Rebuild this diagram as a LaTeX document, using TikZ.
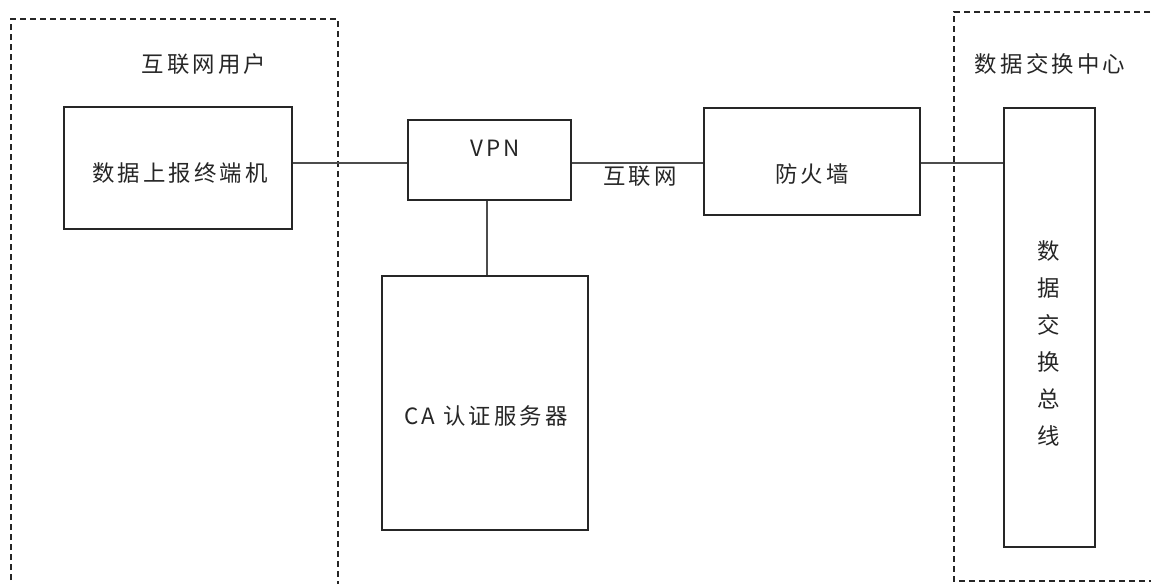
\documentclass[tikz,border=0pt]{standalone}
\usepackage{fontspec}
\setmainfont[LetterSpace=14]{Noto Sans CJK SC}
\usetikzlibrary{fit}
\tikzset{
  box/.style={draw=black!85, line width=1.1pt, inner sep=0pt, fill=white},
  zone/.style={draw=black!85, line width=0.9pt, dash pattern=on 4.5pt off 3pt},
  link/.style={draw=black!70, line width=1.1pt},
  txt/.style={inner sep=0pt, font=\fontsize{16.8}{19}\selectfont, text=black!85},
  vtxt/.style={inner sep=0pt, align=center, font=\fontsize{16.8}{27.75}\selectfont, text=black!85}
}
\begin{document}
\begin{tikzpicture}[x=0.75pt,y=-0.75pt]
\useasboundingbox (0,0) rectangle (1151,583);
\clip (0,0) rectangle (1151,583);
% zones
\draw[zone] (11,600) -- (11,19) -- (338,19) -- (338,600);
\draw[zone] (1170,12) -- (954,12) -- (954,581) -- (1170,581);
% boxes
\node[box, fit={(64,107) (292,229)}] (term) {};
\node[box, fit={(408,120) (571,200)}] (vpn) {};
\node[box, fit={(382,276) (588,530)}] (ca) {};
\node[box, fit={(704,108) (920,215)}] (fw) {};
\node[box, fit={(1004,108) (1095,547)}] (bus) {};
% connectors
\draw[link] (term.east |- 0,163) -- (vpn.west |- 0,163);
\draw[link] (vpn.east |- 0,163) -- (fw.west |- 0,163);
\draw[link] (fw.east |- 0,163) -- (bus.west |- 0,163);
\draw[link] (vpn.south -| 487,0) -- (ca.north -| 487,0);
% labels
\node[txt] (lzone1) at (204,64) {互联网用户};
\node[txt] (lzone2) at (1050,64) {数据交换中心};
\node[txt] (lterm) at (180,173) {数据上报终端机};
\node[txt] (lvpn) at (495,148) {VPN};
\node[txt] (lnet) at (640,176) {互联网};
\node[txt] (lfw) at (812,174) {防火墙};
\node[txt] (lca) at (486,416) {CA 认证服务器};
\node[vtxt] (lbus) at (1049,343) {数\\据\\交\\换\\总\\线};
\end{tikzpicture}
\end{document}
